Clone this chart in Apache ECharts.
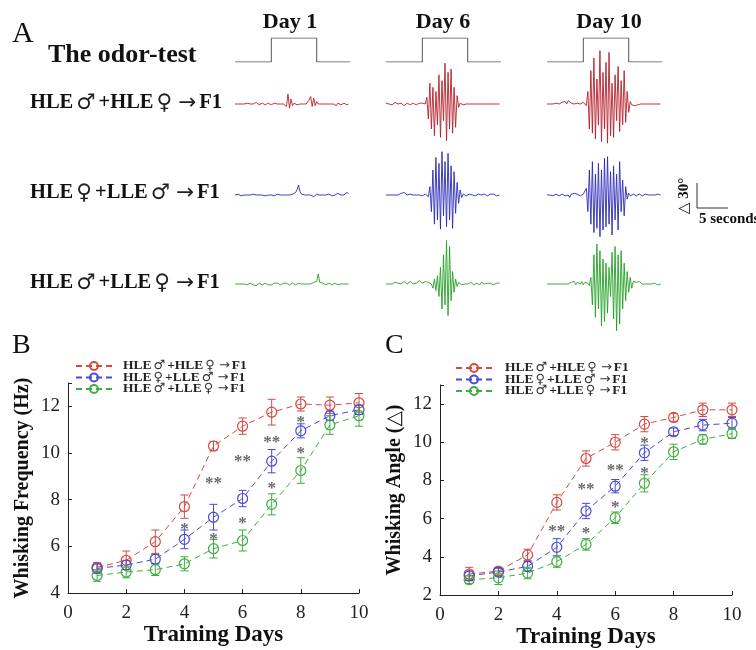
<!DOCTYPE html>
<html><head><meta charset="utf-8">
<script src="https://cdn.jsdelivr.net/npm/echarts@6/dist/echarts.min.js"></script>
<style>html,body{margin:0;padding:0;background:#fff}#c{width:756px;height:650px}</style>
</head><body><div id="c"></div>
<script>
// ---------- DATA ----------
const groupNames = ['HLE\u2642+HLE\u2640\u2192F1', 'HLE\u2640+LLE\u2642\u2192F1', 'HLE\u2642+LLE\u2640\u2192F1'];
const dayLabels = ['Day 1', 'Day 6', 'Day 10'];
const trainingDays = [1, 2, 3, 4, 5, 6, 7, 8, 9, 10];

// Panel B: whisking frequency (Hz)
const freqRed = [5.1, 5.4, 6.2, 7.7, 10.3, 11.15, 11.75, 12.1, 12.05, 12.15];
const freqRedErr = [0.2, 0.4, 0.5, 0.5, 0.2, 0.35, 0.55, 0.3, 0.35, 0.4];
const freqBlue = [5.05, 5.2, 5.45, 6.3, 7.25, 8.05, 9.65, 10.95, 11.6, 11.85];
const freqBlueErr = [0.2, 0.2, 0.2, 0.4, 0.55, 0.35, 0.5, 0.3, 0.2, 0.2];
const freqGreen = [4.75, 4.9, 5.0, 5.25, 5.9, 6.25, 7.8, 9.25, 11.2, 11.6];
const freqGreenErr = [0.25, 0.25, 0.25, 0.3, 0.4, 0.45, 0.45, 0.55, 0.4, 0.45];
const starsB = [[4, 6.95, '*'], [5, 6.5, '*'], [5, 8.9, '**'], [6, 9.85, '**'], [6, 7.2, '*'],
                [7, 10.65, '**'], [7, 8.7, '*'], [8, 11.5, '*'], [8, 10.2, '*']];

// Panel C: whisking angle
const angleRed = [3.1, 3.25, 4.1, 6.85, 9.15, 10.0, 10.95, 11.3, 11.7, 11.7];
const angleRedErr = [0.35, 0.2, 0.3, 0.4, 0.4, 0.4, 0.4, 0.2, 0.35, 0.35];
const angleBlue = [3.0, 3.2, 3.5, 4.5, 6.4, 7.7, 9.45, 10.55, 10.9, 11.0];
const angleBlueErr = [0.25, 0.2, 0.25, 0.45, 0.4, 0.35, 0.4, 0.2, 0.3, 0.3];
const angleGreen = [2.8, 2.9, 3.15, 3.75, 4.65, 6.05, 7.85, 9.5, 10.15, 10.45];
const angleGreenErr = [0.2, 0.35, 0.3, 0.3, 0.3, 0.3, 0.45, 0.4, 0.25, 0.25];
const starsC = [[4, 5.6, '**'], [5, 7.8, '**'], [5, 5.5, '*'], [6, 8.8, '**'], [6, 6.85, '*'],
                [7, 10.2, '*'], [7, 8.6, '*']];

// Panel A: odor pulse (seconds, on/off) and whisker traces (degrees, 0.25 s samples)
const pulseTimes = [0, 6, 6, 13.5, 13.5, 19];
const pulseLevels = [0, 0, 1, 1, 0, 0];
const sampleStep = 0.25;

const redD1 = [0,1,0,-1,0,1,0,-1,1,0, 0,-1,0,1,2,0,-1,0,1,0, -1,0,1,0,-1,0,1,2,0,-1,
  0,1,0,2,-3,12,-5,6,-2,1, 0,-1,1,0,1,0,-1,0,2,5, 9,-3,7,-2,3,0,1,0,-1,0,
  1,0,-1,0,1,0,0,-2,1,0, -1,0,1,0,-1,0];
const redD6 = [1,2,0,1,-1,0,2,1,0,-1, 1,0,-2,-3,1,0,-1,0,1,0, -1,0,1,0,1,-1,0,8,-18,25,
  -30,20,-38,15,-25,35,-40,28,-20,49, -44,38,-30,42,-35,20,-28,10,-4,1, 0,-1,1,0,-1,0,1,0,-1,0,
  1,0,-1,0,1,0,-1,0,1,0, -1,0,1,0,-1,0];
const redD10 = [0,-1,0,1,0,-1,1,2,0,1, 2,1,3,0,4,2,1,3,0,2, 1,3,0,1,2,0,-2,15,-30,40,
  -35,55,-42,30,-25,64,-45,38,-30,50, -47,62,-38,25,-40,35,-20,45,-33,28, -25,40,-22,15,-10,3,-1,-3,-2,0,
  -1,-2,0,-1,0,1,0,-1,0,1, 0,-1,0,1,0,0];
const blueD1 = [0,0,1,0,-1,0,0,1,0,-1, 0,0,1,0,0,-1,0,1,0,0, -1,0,0,1,0,0,-1,0,1,0,
  0,1,0,-1,0,1,0,0,1,2, 3,6,12,4,1,0,0,-1,0,1, 0,1,-2,0,1,0,0,-1,0,1,
  0,0,1,0,-1,0,0,1,2,1, 0,1,0,2,3,2];
const blueD6 = [0,-1,0,1,0,-1,0,1,0,1, 2,1,3,1,0,2,1,-1,0,1, 0,-1,0,1,-1,0,1,0,-2,10,
  -20,30,-35,45,-30,38,-41,52,-25,40, -38,50,-30,35,-40,28,-22,15,-10,6, -3,1,0,-1,0,1,-1,0,1,-1,
  0,1,2,0,-1,1,0,-1,0,1, 0,1,0,-1,0,0];
const blueD10 = [0,1,0,1,-1,0,1,0,-1,0, 1,0,-1,-2,0,-3,1,0,2,0, 1,0,-1,0,1,0,8,-20,30,-35,
  40,-45,25,-40,38,-50,30,-42,44,-38, 46,-35,28,-48,35,-30,25,-42,40,-20, 18,-25,10,-5,2,-1,0,1,0,-1,
  0,1,0,-1,0,1,0,0,-1,0, 1,0,0,1,0,0];
const greenD1 = [0,1,0,-1,0,1,0,0,-1,0, 1,0,-1,0,-2,0,1,0,-1,0, 1,0,-1,-2,-1,0,1,0,1,0,
  -1,0,1,2,1,0,-1,0,1,0, -1,0,1,0,0,-1,0,1,0,1, 0,1,2,0,3,12,2,0,1,0,
  -1,0,1,0,-1,0,1,0,-1,0, 0,1,0,-1,0,0];
const greenD6 = [0,1,0,-1,0,1,2,0,1,-1, 0,2,3,1,0,2,3,1,0,-1, 1,3,4,2,1,0,3,1,2,4,
  0,-5,6,-8,10,-15,20,-30,35,-25, 52,-38,45,-20,15,-10,6,-3,2,0, -1,1,0,-1,0,1,2,0,-1,0,
  1,0,-1,2,1,0,-1,1,0,1, 0,-1,0,1,2,1];
const greenD10 = [0,-1,0,1,0,-1,0,1,0,-1, 0,1,0,-1,0,1,2,0,3,-1, 2,1,0,3,-1,2,0,1,-2,8,
  -25,35,-40,48,-30,40,-50,30,-45,25, -35,20,-15,38,-42,45,-56,35,-48,40, -30,25,-20,15,-10,8,-5,3,5,2,
  0,3,1,0,1,0,-1,0,1,0, 0,1,0,-1,0,0];

const traces = [[redD1, redD6, redD10], [blueD1, blueD6, blueD10], [greenD1, greenD6, greenD10]];

// ---------- STYLE ----------
const SERIF = '"Liberation Serif", "DejaVu Serif", serif';
const SYM = '"DejaVu Sans", sans-serif';
const traceColors = ['#b3202a', '#2a2ab8', '#25a025'];
const lineColors = ['#d24b43', '#4a4ad2', '#3fae3f'];
const colLeft = [235, 386, 547];
const colWidth = 115;
const rowBase = [104, 195, 284];
const degPx = 25 / 30;

const richify = s => s.replace(/([\u2640\u2642\u2192])/g, '{s|$1}');

const grids = [], xAxes = [], yAxes = [], series = [];

// pulse grids
for (let c = 0; c < 3; c++) {
  grids.push({left: colLeft[c], top: 38, width: colWidth, height: 24});
  const gi = grids.length - 1;
  xAxes.push({gridIndex: gi, type: 'value', min: 0, max: 19, show: false});
  yAxes.push({gridIndex: gi, type: 'value', min: 0, max: 1, show: false});
  series.push({type: 'line', xAxisIndex: gi, yAxisIndex: gi, symbol: 'none', silent: true,
    lineStyle: {color: '#555', width: 1},
    data: pulseTimes.map((t, i) => [t, pulseLevels[i]])});
}
// trace grids
for (let r = 0; r < 3; r++) {
  for (let c = 0; c < 3; c++) {
    const h = 140 * degPx;
    grids.push({left: colLeft[c], top: rowBase[r] - h / 2, width: colWidth, height: h});
    const gi = grids.length - 1;
    xAxes.push({gridIndex: gi, type: 'value', min: 0, max: 19, show: false});
    yAxes.push({gridIndex: gi, type: 'value', min: -70, max: 70, show: false});
    series.push({type: 'line', xAxisIndex: gi, yAxisIndex: gi, symbol: 'none', silent: true,
      lineStyle: {color: traceColors[r], width: 0.9},
      data: traces[r][c].map((v, i) => [i * sampleStep, v])});
  }
}

function addPanel(left, top, width, height, ymin, yName, means, errs, stars) {
  grids.push({left, top, width, height});
  const gi = grids.length - 1;
  xAxes.push({gridIndex: gi, type: 'value', min: 0, max: 10, interval: 2,
    axisLine: {show: true, lineStyle: {color: '#222', width: 1}},
    axisTick: {show: true, inside: true, length: 4, lineStyle: {color: '#222'}},
    axisLabel: {fontFamily: SERIF, fontSize: 19, color: '#222', margin: 11},
    splitLine: {show: false},
    name: 'Training Days', nameLocation: 'middle', nameGap: 31,
    nameTextStyle: {fontFamily: SERIF, fontSize: 23, fontWeight: 'bold', color: '#111'}});
  yAxes.push({gridIndex: gi, type: 'value', min: ymin, max: 13, interval: 2,
    axisLine: {show: true, lineStyle: {color: '#222', width: 1}},
    axisTick: {show: true, inside: true, length: 4, lineStyle: {color: '#222'}},
    axisLabel: {fontFamily: SERIF, fontSize: 19, color: '#222', margin: 8,
      formatter: v => (v % 2 === 0 ? String(v) : '')},
    splitLine: {show: false},
    name: yName, nameLocation: 'middle', nameRotate: 90, nameGap: 35,
    nameTextStyle: {fontFamily: SERIF, fontSize: 20, fontWeight: 'bold', color: '#111'}});
  for (let s = 0; s < 3; s++) {
    const col = lineColors[s];
    series.push({type: 'custom', xAxisIndex: gi, yAxisIndex: gi, silent: true, z: 2,
      data: trainingDays.map((d, i) => [d, means[s][i] - errs[s][i], means[s][i] + errs[s][i]]),
      renderItem: (params, api) => {
        const x = api.value(0);
        const a = api.coord([x, api.value(2)]);
        const b = api.coord([x, api.value(1)]);
        const w = 4;
        const st = {stroke: col, lineWidth: 1};
        return {type: 'group', children: [
          {type: 'line', shape: {x1: a[0], y1: a[1], x2: b[0], y2: b[1]}, style: st},
          {type: 'line', shape: {x1: a[0] - w, y1: a[1], x2: a[0] + w, y2: a[1]}, style: st},
          {type: 'line', shape: {x1: b[0] - w, y1: b[1], x2: b[0] + w, y2: b[1]}, style: st}
        ]};
      }});
    series.push({type: 'line', name: groupNames[s], xAxisIndex: gi, yAxisIndex: gi, z: 3,
      symbol: 'circle', symbolSize: 10,
      itemStyle: {color: 'transparent', borderColor: col, borderWidth: 1.2},
      lineStyle: {color: col, width: 1, type: [6, 4]},
      emphasis: {disabled: true},
      data: trainingDays.map((d, i) => [d, means[s][i]])});
  }
  series.push({type: 'scatter', xAxisIndex: gi, yAxisIndex: gi, silent: true, z: 4,
    symbolSize: 1, itemStyle: {color: 'transparent'},
    label: {show: true, position: 'inside', formatter: p => p.value[2], offset: [0, 5],
      fontFamily: SERIF, fontSize: 17, fontWeight: 'bold', color: '#444'},
    data: stars});
}
addPanel(68, 383, 291, 210, 4, 'Whisking Frequency (Hz)',
  [freqRed, freqBlue, freqGreen], [freqRedErr, freqBlueErr, freqGreenErr], starsB);
addPanel(440, 385, 292, 211, 2, 'Whisking Angle (\u25B3)',
  [angleRed, angleBlue, angleGreen], [angleRedErr, angleBlueErr, angleGreenErr], starsC);

function legendAt(left, top, pad) {
  return {left, top, orient: 'vertical', itemWidth: 36, itemHeight: 10, itemGap: -2.5,
    selectedMode: false, data: groupNames, formatter: n => richify(n),
    textStyle: {fontFamily: SERIF, fontSize: 13.5, fontWeight: 'bold', color: '#222', lineHeight: 11.5,
      padding: [0, 0, 0, pad],
      rich: {s: {fontFamily: SYM, fontSize: 13, fontWeight: 'normal', color: '#333', lineHeight: 11.5,
        padding: [0, 2, 0, 2]}}}};
}

function txt(x, y, text, size, weight, align, rot) {
  return {type: 'text', x, y, rotation: rot || 0, silent: true,
    style: {text, fontFamily: SERIF, fontSize: size, fontWeight: weight, fill: '#111',
      align: align || 'left', verticalAlign: 'middle'}};
}
function richTxt(x, y, text, size) {
  return {type: 'text', x, y, silent: true,
    style: {text: richify(text), fontFamily: SERIF, fontSize: size, fontWeight: 'bold', fill: '#111',
      align: 'left', verticalAlign: 'middle',
      rich: {s: {fontFamily: SYM, fontSize: size + 1, fontWeight: 'normal', fill: '#222',
        padding: [0, 3, 0, 3]}}}};
}
const graphic = [
  txt(12, 34, 'A', 30, 'normal'),
  txt(48, 55, 'The odor-test', 26, 'bold'),
  txt(290, 22, dayLabels[0], 22, 'bold', 'center'),
  txt(443, 22, dayLabels[1], 22, 'bold', 'center'),
  txt(609, 22, dayLabels[2], 22, 'bold', 'center'),
  richTxt(30, 103, groupNames[0], 20.5),
  richTxt(30, 193, groupNames[1], 20.5),
  richTxt(30, 283, groupNames[2], 20.5),
  txt(12, 346, 'B', 28, 'normal'),
  txt(385, 346, 'C', 28, 'normal'),
  txt(684, 196, '\u25B3 30\u00B0', 15, 'bold', 'center', Math.PI / 2),
  txt(699, 219, '5 seconds', 15, 'bold'),
  {type: 'line', silent: true, shape: {x1: 697, y1: 183, x2: 697, y2: 208}, style: {stroke: '#333', lineWidth: 1}},
  {type: 'line', silent: true, shape: {x1: 697, y1: 208, x2: 728, y2: 208}, style: {stroke: '#333', lineWidth: 1}}
];

const chart = echarts.init(document.getElementById('c'), null, {renderer: 'canvas'});
chart.setOption({
  animation: false,
  backgroundColor: '#fff',
  grid: grids, xAxis: xAxes, yAxis: yAxes, series,
  legend: [legendAt(70, 354, 6), legendAt(450, 356, 8)],
  graphic
});
</script></body></html>
